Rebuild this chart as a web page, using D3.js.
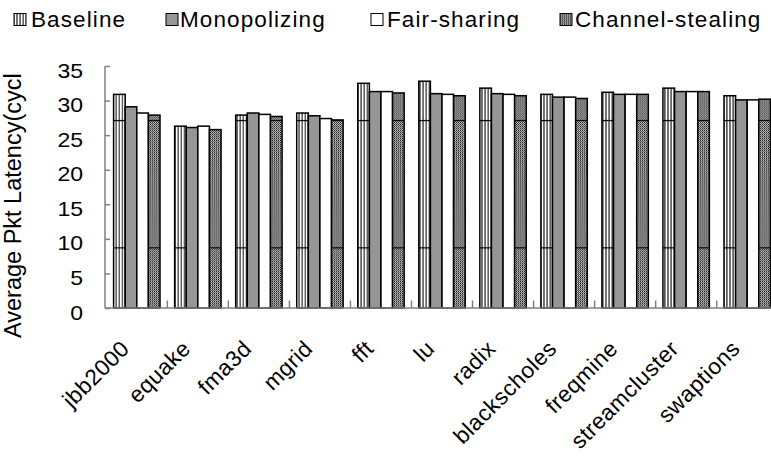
<!DOCTYPE html>
<html>
<head>
<meta charset="utf-8">
<script src="https://cdn.jsdelivr.net/npm/d3@7"></script>
<style>
  html, body { margin: 0; padding: 0; background: #fff; }
  svg { display: block; }
  text { font-family: "Liberation Sans", Arial, sans-serif; fill: #000; font-weight: normal; }
</style>
</head>
<body>
<svg id="chart" width="771" height="458"></svg>
<script>
const categories = ["jbb2000","equake","fma3d","mgrid","fft","lu","radix","blackscholes","freqmine","streamcluster","swaptions"];
const seriesNames = ["Baseline","Monopolizing","Fair-sharing","Channel-stealing"];
const baseline     = [30.9, 26.3, 27.9, 28.2, 32.5, 32.8, 31.8, 30.9, 31.2, 31.8, 30.7];
const monopolizing = [29.1, 26.1, 28.2, 27.8, 31.3, 31.0, 31.0, 30.5, 30.9, 31.3, 30.1];
const fairSharing  = [28.2, 26.3, 28.0, 27.4, 31.3, 30.9, 30.9, 30.5, 30.9, 31.3, 30.1];
const channelSteal = [27.9, 25.8, 27.7, 27.2, 31.1, 30.7, 30.7, 30.3, 30.9, 31.3, 30.2];
const yTicks = [0, 5, 10, 15, 20, 25, 30, 35];
const yTitle = "Average Pkt Latency(cycl";

const seriesValues = [baseline, monopolizing, fairSharing, channelSteal];
const fills = ["url(#patBase)", "#969696", "#ffffff", "url(#patChan)"];

const svg = d3.select("#chart");
const plotLeft = 105, plotTop = 66, plotBottom = 308;
const bandStart = 106.3, bandStep = 61.04;

const x0 = d3.scaleBand().domain(categories)
  .range([bandStart, bandStart + bandStep * categories.length]).padding(0);
const x1 = d3.scaleBand().domain(seriesNames).range([7.3, 7.3 + 4 * 11.6]).padding(0);
const y = d3.scaleLinear().domain([0, 35]).range([plotBottom, plotTop]);

// patterns
const defs = svg.append("defs");
const artifactY = y(27.2);
const tileH = y(0) - y(18.42);
const pb = defs.append("pattern").attr("id", "patBase")
  .attr("patternUnits", "userSpaceOnUse")
  .attr("x", 0).attr("y", artifactY).attr("width", 3.1).attr("height", tileH);
pb.append("rect").attr("width", 3.1).attr("height", tileH).attr("fill", "#fff");
pb.append("rect").attr("x", 1).attr("width", 1).attr("height", tileH).attr("fill", "#000");
pb.append("rect").attr("width", 3.1).attr("height", 1.2).attr("fill", "#000");

const pcInner = defs.append("pattern").attr("id", "patChanDots")
  .attr("patternUnits", "userSpaceOnUse").attr("width", 2).attr("height", 2);
pcInner.append("rect").attr("width", 2).attr("height", 2).attr("fill", "#dcdcdc");
pcInner.append("rect").attr("width", 1).attr("height", 1).attr("fill", "#000");
pcInner.append("rect").attr("x", 1).attr("y", 1).attr("width", 1).attr("height", 1).attr("fill", "#333");
const pc = defs.append("pattern").attr("id", "patChan")
  .attr("patternUnits", "userSpaceOnUse")
  .attr("x", 0).attr("y", artifactY).attr("width", 2).attr("height", tileH);
pc.append("rect").attr("width", 2).attr("height", tileH).attr("fill", "url(#patChanDots)");
pc.append("rect").attr("width", 2).attr("height", 1.2).attr("fill", "#000");

// bars
const rows = [];
categories.forEach((c, i) => {
  seriesNames.forEach((s, j) => rows.push({ cat: c, s, j, v: seriesValues[j][i] }));
});
svg.append("g").selectAll("rect").data(rows).join("rect")
  .attr("x", d => x0(d.cat) + x1(d.s))
  .attr("y", d => y(d.v))
  .attr("width", x1.bandwidth())
  .attr("height", d => y(0) - y(d.v))
  .attr("fill", d => fills[d.j])
  .attr("stroke", "#000")
  .attr("stroke-width", 1.5);

// x axis
const xAxis = d3.axisBottom(x0).tickSize(0).tickFormat("");
const gx = svg.append("g").attr("transform", `translate(0,${plotBottom})`).call(xAxis);
gx.select(".domain").attr("stroke", "#808080").attr("stroke-width", 1.5)
  .attr("d", `M${plotLeft},0H771`);
svg.append("g").selectAll("line").data(categories.slice(1)).join("line")
  .attr("x1", d => x0(d)).attr("x2", d => x0(d))
  .attr("y1", plotBottom).attr("y2", plotBottom - 7.5)
  .attr("stroke", "#808080").attr("stroke-width", 1.5);

// x labels
svg.append("g").selectAll("text").data(categories).join("text")
  .attr("transform", d => `translate(${x0(d) + x0.bandwidth() / 2 - 6},${plotBottom + 42}) rotate(-45)`)
  .attr("text-anchor", "end")
  .style("font-size", "22.5px")
  .style("letter-spacing", "0.5px")
  .text(d => d);

// y axis
const yAxis = d3.axisRight(y).tickValues(yTicks).tickSize(5).tickFormat("");
const gy = svg.append("g").attr("transform", `translate(${plotLeft},0)`).call(yAxis);
gy.select(".domain").attr("stroke", "#808080").attr("stroke-width", 1.5)
  .attr("d", `M0,${plotTop}V${plotBottom}`);
gy.selectAll(".tick line").attr("stroke", "#808080").attr("stroke-width", 1.5);

svg.append("g").selectAll("text").data(yTicks).join("text")
  .attr("transform", d => `translate(83,${y(d) + 11.5}) scale(1.15,1)`)
  .attr("text-anchor", "end")
  .style("font-size", "20px")
  .text(d => d);

// y title
svg.append("text")
  .attr("transform", `translate(21,338) rotate(-90)`)
  .attr("text-anchor", "start")
  .style("font-size", "23.5px")
  .text(yTitle);

// legend
const legX = [14, 166, 371, 560];
const legTextX = [31, 180, 387, 575];
const leg = svg.append("g");
seriesNames.forEach((s, j) => {
  leg.append("rect").attr("x", legX[j]).attr("y", 13.5).attr("width", 12).attr("height", 12)
    .attr("fill", fills[j]).attr("stroke", "#000").attr("stroke-width", 1);
  leg.append("text")
    .attr("x", legTextX[j]).attr("y", 26.5)
    .style("font-size", "22.5px")
    .style("letter-spacing", "1.1px")
    .text(s);
});
</script>
</body>
</html>
